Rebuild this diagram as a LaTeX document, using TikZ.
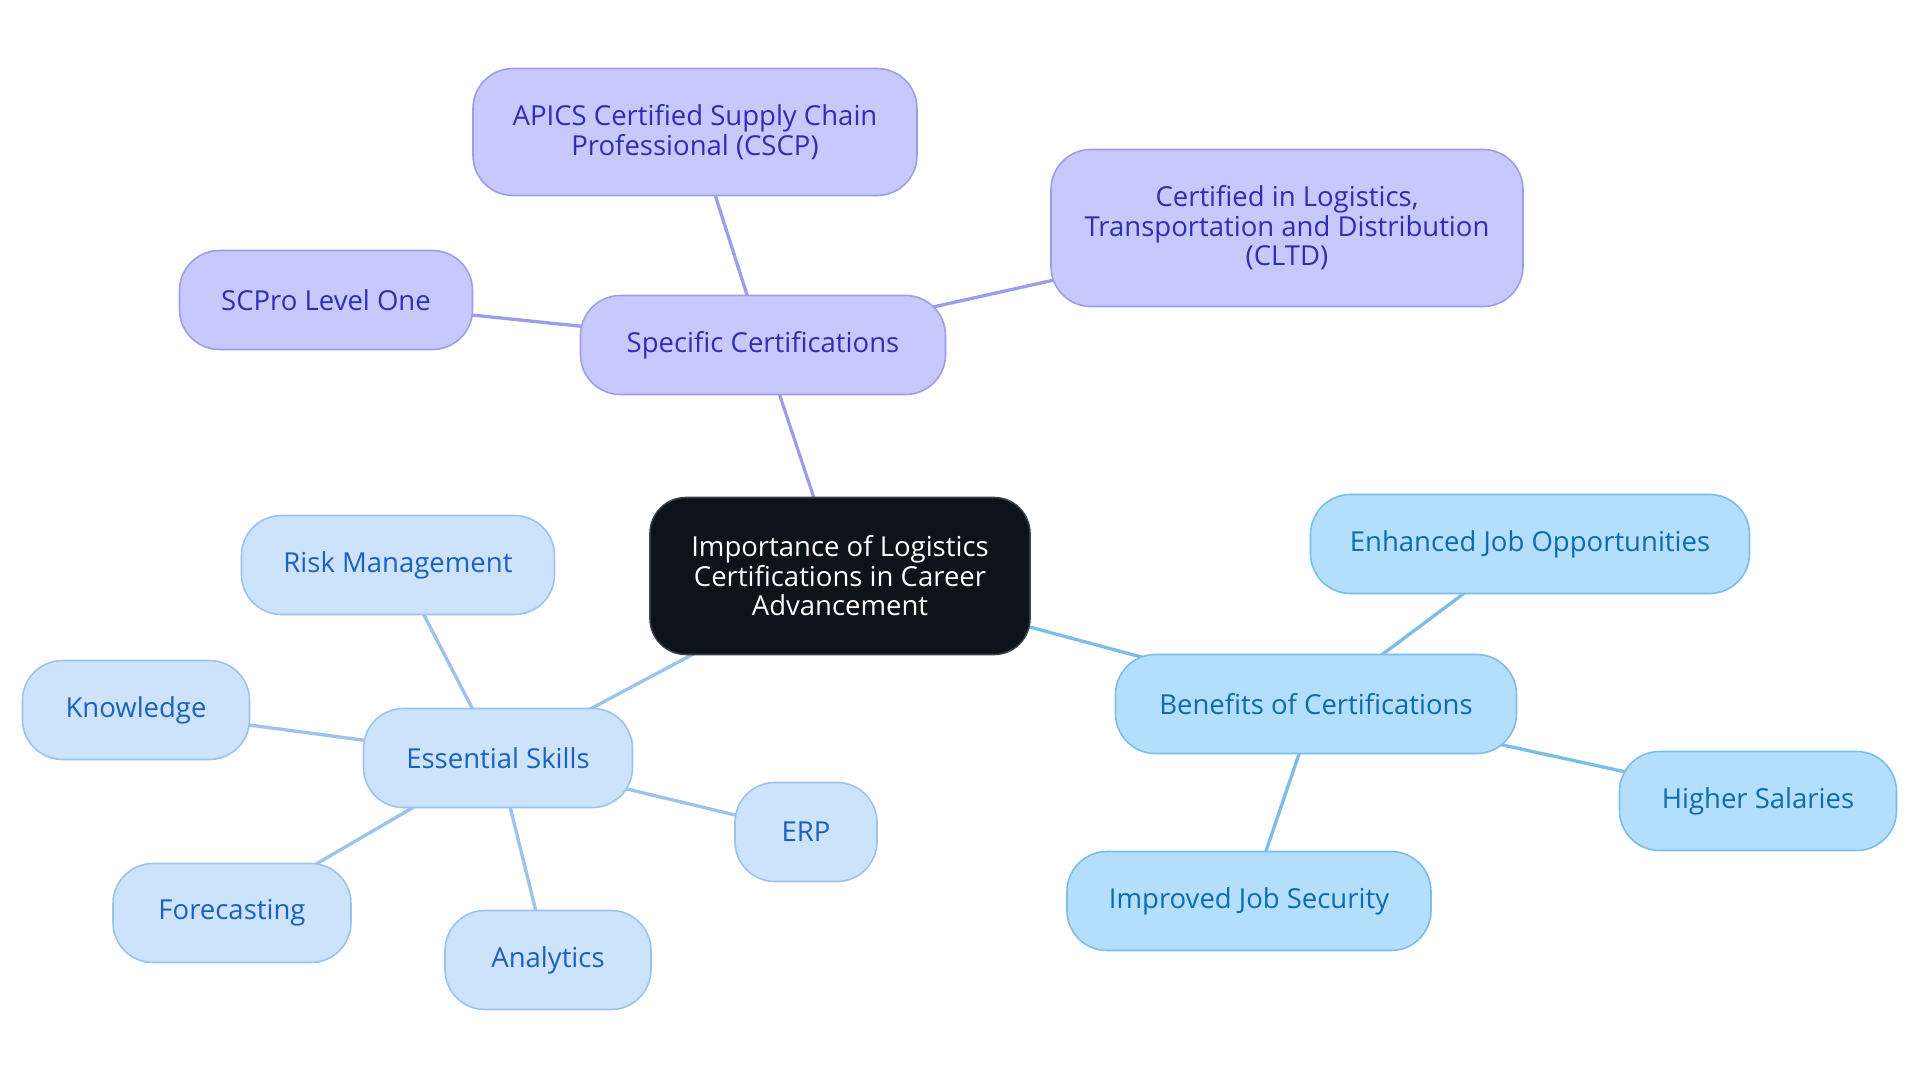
\documentclass[tikz,border=0pt]{standalone}
\usepackage{fontspec}
\setmainfont{Open Sans}
\pgfdeclarelayer{background}
\pgfsetlayers{background,main}
\definecolor{cfill}{HTML}{0D131A}
\definecolor{cline}{HTML}{3A3F45}
\definecolor{pfill}{HTML}{C7C9FD}
\definecolor{pline}{HTML}{9C9EEA}
\definecolor{ptext}{HTML}{2E2EB5}
\definecolor{sfill}{HTML}{CDE3FB}
\definecolor{sline}{HTML}{9CC3EE}
\definecolor{stext}{HTML}{1A62BE}
\definecolor{bfill}{HTML}{B3DFFC}
\definecolor{bline}{HTML}{7CBDE9}
\definecolor{btext}{HTML}{0B6BB3}
\begin{document}
\begin{tikzpicture}[x=1pt,y=-1pt,
  base/.style={draw, line width=1.6pt, rounded corners=40pt, inner sep=0pt, align=center,
    minimum height=99pt, font=\fontsize{27.5}{29.5}\selectfont},
  central/.style={base, fill=cfill, draw=cline, text=white, rounded corners=36pt},
  cert/.style={base, fill=pfill, draw=pline, text=ptext},
  skill/.style={base, fill=sfill, draw=sline, text=stext},
  bene/.style={base, fill=bfill, draw=bline, text=btext},
  pedge/.style={draw=pline, line width=3.3pt},
  sedge/.style={draw=sline, line width=3.3pt},
  bedge/.style={draw=bline, line width=3.3pt}]
\useasboundingbox (0,0) rectangle (1920,1083);

\node[central, minimum width=380pt, minimum height=157pt] (c) at (840,576) {Importance of Logistics\\Certifications in Career\\Advancement};

\node[cert, minimum width=365pt] (spec) at (763,345) {Specific Certifications};
\node[cert, minimum width=444pt, minimum height=127pt] (apics) at (695,132) {APICS Certified Supply Chain\\Professional (CSCP)};
\node[cert, minimum width=472pt, minimum height=157pt] (cltd) at (1287,228) {Certified in Logistics,\\Transportation and Distribution\\(CLTD)};
\node[cert, minimum width=293pt] (scpro) at (326,300) {SCPro Level One};

\node[skill, minimum width=269pt] (ess) at (498,758) {Essential Skills};
\node[skill, minimum width=313pt] (risk) at (398,565) {Risk Management};
\node[skill, minimum width=227pt] (know) at (136,710) {Knowledge};
\node[skill, minimum width=238pt] (fore) at (232,913) {Forecasting};
\node[skill, minimum width=206pt] (anal) at (548,960) {Analytics};
\node[skill, minimum width=142pt] (erp) at (806,832) {ERP};

\node[bene, minimum width=401pt] (ben) at (1316,704) {Benefits of Certifications};
\node[bene, minimum width=439pt] (enh) at (1530,544) {Enhanced Job Opportunities};
\node[bene, minimum width=277pt] (high) at (1758,801) {Higher Salaries};
\node[bene, minimum width=364pt] (impr) at (1249,901) {Improved Job Security};

\begin{pgfonlayer}{background}
\fill[white] (0,0) rectangle (1920,1083);
\path[pedge] (c.center) -- (spec.center);
\path[pedge] (spec.center) -- (apics.center);
\path[pedge] (spec.center) -- (cltd.center);
\path[pedge] (spec.center) -- (scpro.center);
\path[sedge] (c.center) -- (ess.center);
\path[sedge] (ess.center) -- (risk.center);
\path[sedge] (ess.center) -- (know.center);
\path[sedge] (ess.center) -- (fore.center);
\path[sedge] (ess.center) -- (anal.center);
\path[sedge] (ess.center) -- (erp.center);
\path[bedge] (c.center) -- (ben.center);
\path[bedge] (ben.center) -- (enh.center);
\path[bedge] (ben.center) -- (high.center);
\path[bedge] (ben.center) -- (impr.center);
\end{pgfonlayer}
\end{tikzpicture}
\end{document}
